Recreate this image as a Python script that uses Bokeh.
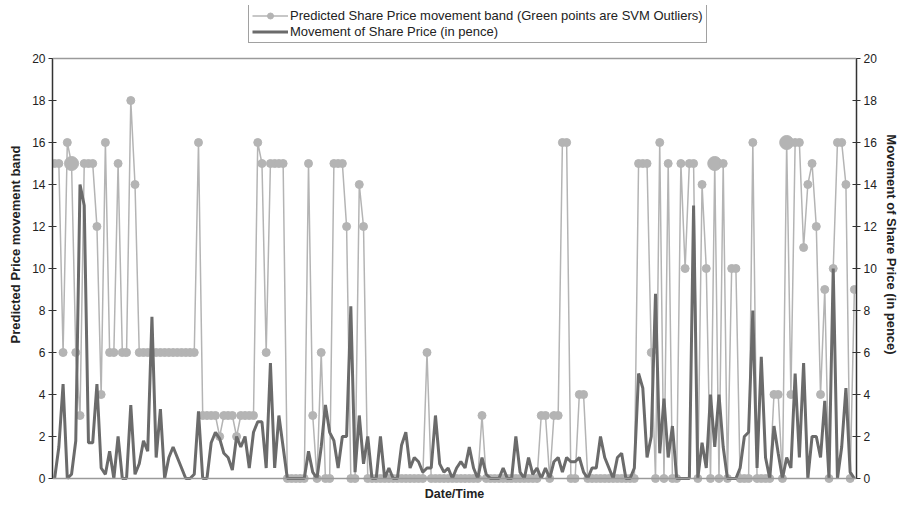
from bokeh.plotting import figure
from bokeh.models import (LinearAxis, Range1d, FixedTicker, Legend, LegendItem,
                          ColumnDataSource, Span)
from bokeh.embed import file_html
from bokeh.resources import INLINE

# Predicted share price movement band (light grey, with markers)
band = [15, 15, 6, 16, 15, 6, 3, 15, 15, 15,
        12, 4, 16, 6, 6, 15, 6, 6, 18, 14,
        6, 6, 6, 6, 6, 6, 6, 6, 6, 6,
        6, 6, 6, 6, 16, 3, 3, 3, 3, 2,
        3, 3, 3, 2, 3, 3, 3, 3, 16, 15,
        6, 15, 15, 15, 15, 0, 0, 0, 0, 0,
        15, 3, 0, 6, 0, 0, 15, 15, 15, 12,
        0, 0, 14, 12, 0, 0, 0, 0, 0, 0,
        0, 0, 0, 0, 0, 0, 0, 0, 6, 0,
        0, 0, 0, 0, 0, 0, 0, 0, 0, 0,
        0, 3, 0, 0, 0, 0, 0, 0, 0, 0,
        0, 0, 0, 0, 0, 3, 3, 0, 3, 3,
        16, 16, 0, 0, 4, 4, 0, 0, 0, 0,
        0, 0, 0, 0, 0, 0, 0, 0, 15, 15,
        15, 6, 0, 16, 0, 15, 0, 0, 15, 10,
        15, 15, 0, 14, 10, 0, 15, 0, 15, 0,
        10, 10, 0, 0, 0, 16, 0, 0, 0, 0,
        4, 4, 0, 16, 4, 16, 16, 11, 14, 15,
        12, 4, 9, 0, 10, 16, 16, 14, 0, 9]

# indices of the larger (SVM outlier) points
outliers = [4, 156, 173]

# Movement of share price in pence (dark grey line)
movement = [0, 1.5, 4.5, 0, 0.2, 1.8, 14, 13, 1.7, 1.7,
            4.5, 0.5, 0.2, 1.3, 0, 2, 0, 0, 3.5, 0.2,
            0.7, 1.8, 1.3, 7.7, 1, 3.3, 0, 1, 1.5, 1,
            0.5, 0, 0, 0.2, 3.2, 0, 0, 1.7, 2.2, 1.9,
            1.2, 1.0, 0.4, 2.0, 1.5, 2.0, 0.5, 2.2, 2.7, 2.7,
            0.5, 5.5, 0.5, 3.0, 1.5, 0, 0, 0, 0, 0,
            1.3, 0.3, 0, 1.5, 3.5, 2.2, 1.8, 0.5, 2, 2,
            8.2, 0.3, 3, 0.7, 2, 0, 0, 2, 0, 0.5,
            0, 0, 1.6, 2.2, 0.5, 1, 0.8, 0.3, 0.5, 0.5,
            3, 0.7, 0.3, 0.5, 0, 0.5, 0.8, 0.5, 1.5, 0.5,
            0, 1, 0.2, 0, 0, 0, 0.5, 0, 0, 2,
            0.3, 0, 1, 0.2, 0.5, 0, 0.5, 0, 0.8, 1,
            0.3, 1, 0.8, 0.8, 1, 0.3, 0, 0.5, 0.5, 2,
            1, 0.5, 0, 1, 1.2, 0, 0, 0.5, 5, 4.3,
            1, 2, 8.8, 1.2, 3.8, 1, 2.5, 0, 0, 0,
            0, 13, 0, 1.7, 0.5, 4, 1.5, 4, 1.5, 0,
            0, 0, 0.5, 2, 2.2, 8, 0.5, 5.8, 1, 0,
            2.5, 1.2, 0, 1, 0.5, 5, 1, 5.5, 0, 2,
            2, 1, 3.7, 0, 10, 0, 1.5, 4.3, 0.3, 0]

y_ticks = list(range(0, 21, 2))
Y_MIN, Y_MAX = 0, 20

N = len(band)
idx = list(range(N))
sizes = [14 if i in outliers else 8 for i in idx]

src = ColumnDataSource(dict(x=idx, band=band, size=sizes, move=movement))

FONT = "Liberation Sans"
LIGHT = "#b4b4b4"
DARK = "#6b6b6b"
TXT = "#222222"

# frame: x 52..856, y=20 at 58, y=0 at 478 (21 px per unit);
# frame extends up to y=5 so that the legend sits inside it
px_per_unit = 21.0
top_extra = 53 / px_per_unit
bottom_extra = 5 / px_per_unit

p = figure(width=906, height=507, output_backend="svg", toolbar_location=None,
           x_range=Range1d(-0.5, N - 0.5),
           y_range=Range1d(Y_MIN - bottom_extra, Y_MAX + top_extra),
           min_border_left=52, min_border_right=50, min_border_top=5,
           min_border_bottom=24)
p.grid.visible = False
p.outline_line_color = None
p.background_fill_color = "white"

# top border line at 20 and baseline at 0
p.add_layout(Span(location=Y_MAX, dimension="width", line_color="#9a9a9a",
                  line_width=1.5))
p.add_layout(Span(location=Y_MIN, dimension="width", line_color="#9a9a9a",
                  line_width=1.5))

bl = p.line("x", "band", source=src, line_color=LIGHT, line_width=1.5)
bs = p.scatter("x", "band", source=src, size="size", fill_color=LIGHT,
               line_color=LIGHT)
ml = p.line("x", "move", source=src, line_color=DARK, line_width=3)

# x axis: no ticks, only title
xa = p.xaxis[0]
xa.ticker = FixedTicker(ticks=[])
xa.axis_label = "Date/Time"
xa.axis_label_text_font = FONT
xa.axis_label_text_font_style = "bold"
xa.axis_label_text_font_size = "12.5px"
xa.axis_label_text_color = TXT
xa.axis_line_color = None
xa.axis_label_standoff = 3
xa.major_tick_line_color = None
xa.minor_tick_line_color = None

def style_y(ax, label, label_standoff):
    ax.ticker = FixedTicker(ticks=y_ticks)
    ax.bounds = (Y_MIN, Y_MAX)
    ax.axis_label = label
    ax.axis_label_text_font = FONT
    ax.axis_label_text_font_style = "bold"
    ax.axis_label_text_font_size = "13px"
    ax.axis_label_text_color = TXT
    ax.major_label_text_font = FONT
    ax.major_label_text_font_size = "12px"
    ax.major_label_text_color = TXT
    ax.axis_line_color = "#333333"
    ax.axis_line_width = 1.5
    ax.major_tick_line_color = "#333333"
    ax.major_tick_in = 4
    ax.major_tick_out = 4
    ax.minor_tick_line_color = None
    ax.major_label_standoff = 3
    ax.axis_label_standoff = label_standoff

style_y(p.yaxis[0], "Predicted Price movement band", 6)
ra = LinearAxis()
style_y(ra, "Movement of Share Price (in pence)", 4)
p.add_layout(ra, "right")

legend = Legend(items=[
    LegendItem(label="Predicted Share Price movement band (Green points are SVM Outliers)",
               renderers=[bl, bs]),
    LegendItem(label="Movement of Share Price (in pence)", renderers=[ml]),
], location=(196, 483 - 43))
legend.label_text_font = FONT
legend.label_text_font_size = "13px"
legend.label_text_color = TXT
legend.label_height = 15
legend.glyph_height = 15
legend.glyph_width = 36
legend.label_standoff = 2
legend.spacing = 1
legend.padding = 3
legend.margin = 0
legend.border_line_color = "#444444"
legend.border_line_width = 1.5
legend.background_fill_alpha = 1
p.add_layout(legend, "center")

open("out.html", "w").write(file_html(p, INLINE))
